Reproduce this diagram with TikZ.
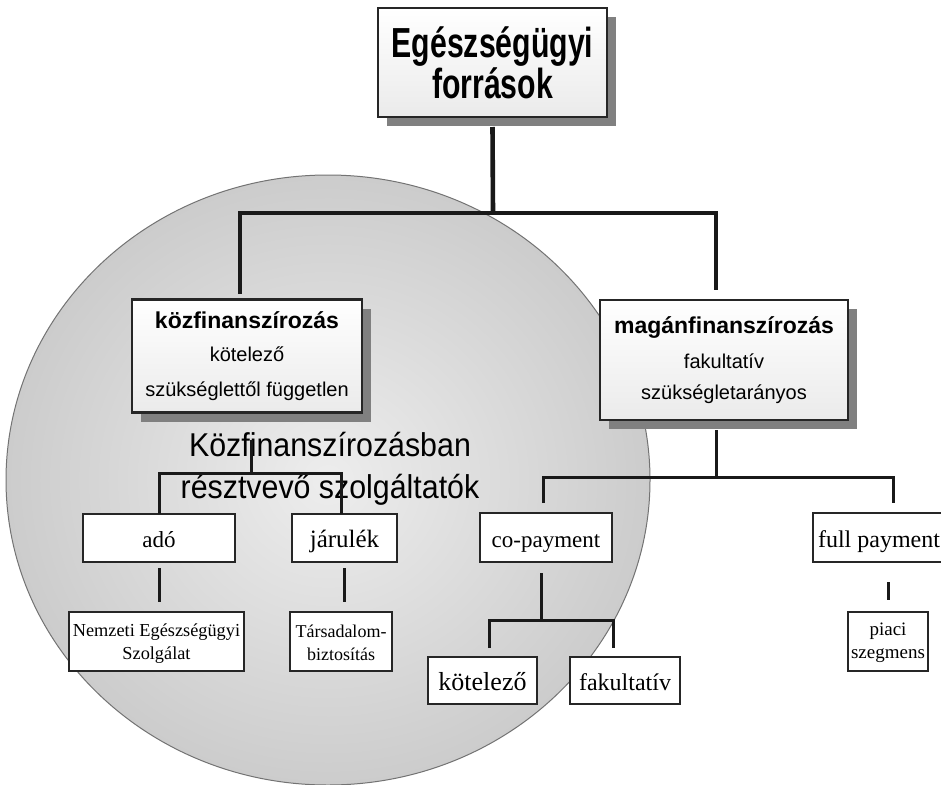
\documentclass[tikz,border=0pt]{standalone}
\usepackage{fontspec}
\setmainfont{Liberation Serif}
\newfontfamily\sansf{Liberation Sans}
\usetikzlibrary{shadows}
\newcommand{\sqz}[2][0.72]{\scalebox{#1}[1]{#2}}
\tikzset{
  every node/.style={inner sep=0pt, outer sep=0pt},
  mainbox/.style={draw=black!85, line width=2.4pt, top color=white, bottom color=gray!16,
    drop shadow={shadow xshift=9pt, shadow yshift=-9pt, fill=black!50, opacity=1}, align=center},
  leafbox/.style={draw=black!85, line width=1.7pt, fill=white, align=center},
  oneline/.style={text height=19pt, text depth=0pt},
  conn/.style={line width=3pt, draw=black!90},
  bigconn/.style={line width=4.6pt, draw=black!90},
}
\begin{document}
\begin{tikzpicture}[x=1pt,y=-1pt]
\useasboundingbox (0,0) rectangle (941,784);
\fill[white] (0,0) rectangle (941,784);
% big grey circle
\shade[inner color=gray!14, outer color=gray!40, draw=black!55, line width=1pt]
  (328,480) ellipse [x radius=322pt, y radius=305pt];

% main boxes
\node[mainbox, minimum width=229pt, minimum height=109pt,
  font=\sansf\bfseries\fontsize{42}{39}\selectfont] (top) at (492.5,62.5)
  {\sqz{Egészségügyi}\\\sqz{források}};
\node[mainbox, minimum width=230pt, minimum height=113pt,
  font=\sansf\fontsize{20}{33}\selectfont] (kozf) at (247,356)
  {\rule{0pt}{8pt}{\bfseries\fontsize{23}{28}\selectfont közfinanszírozás}\\[0pt]kötelező\\[2pt]szükséglettől független};
\node[mainbox, minimum width=248pt, minimum height=120pt,
  font=\sansf\fontsize{20}{31}\selectfont] (mag) at (724,360)
  {\rule{0pt}{8pt}{\bfseries\fontsize{23}{28}\selectfont magánfinanszírozás}\\[4pt]fakultatív\\szükségletarányos};

% big label
\node[align=center, font=\sansf\fontsize{33}{42}\selectfont] (label) at (330,469)
  {\sqz[0.92]{Közfinanszírozásban}\\\sqz[0.92]{résztvevő szolgáltatók}};

% leaf boxes
\node[leafbox, oneline, minimum width=152pt, minimum height=48pt, font=\fontsize{23}{26}\selectfont] (ado) at (159,538) {adó};
\node[leafbox, oneline, minimum width=105pt, minimum height=48pt, font=\fontsize{25}{28}\selectfont] (jar) at (344.5,538) {járulék};
\node[leafbox, oneline, minimum width=132pt, minimum height=49pt, font=\fontsize{23}{26}\selectfont] (co) at (546,537.5) {co-payment};
\node[leafbox, oneline, minimum width=132pt, minimum height=49pt, font=\fontsize{24}{26}\selectfont] (full) at (879,537.5) {full payment};
\node[leafbox, minimum width=175pt, minimum height=59pt, font=\fontsize{18.3}{23}\selectfont] (nem) at (156.5,641.5) {\rule{0pt}{16pt}Nemzeti Egészségügyi\\Szolgálat};
\node[leafbox, minimum width=102pt, minimum height=59pt, font=\fontsize{18}{23}\selectfont] (tar) at (341,641.5) {\rule{0pt}{16pt}Társadalom-\\biztosítás};
\node[leafbox, minimum width=80pt, minimum height=59pt, font=\fontsize{19}{23}\selectfont] (pia) at (888,641.5) {\rule{0pt}{16pt}piaci\\szegmens};
\node[leafbox, oneline, minimum width=109pt, minimum height=47pt, font=\fontsize{26}{28}\selectfont] (kot) at (482.5,680.5) {kötelező};
\node[leafbox, oneline, minimum width=110pt, minimum height=47pt, font=\fontsize{24}{26}\selectfont] (fak) at (625,680.5) {fakultatív};

% level 1 connectors
\coordinate (b1) at (493,213);
\coordinate (kt) at ([xshift=-7pt,yshift=6pt]kozf.north);
\coordinate (mt) at ([xshift=-8pt,yshift=10pt]mag.north);
\draw[bigconn] ([yshift=-10pt]top.south) -- (b1);
\draw[bigconn] (kt) |- (b1) -| (mt);

% public branch
\coordinate (b2) at (251,473);
\coordinate (jt) at ([xshift=-3.5pt]jar.north);
\draw[conn] ([xshift=4pt,yshift=-27pt]kozf.south) -- (b2);
\draw[conn] (ado.north) |- (b2) -| (jt);
\draw[conn, shorten <=6pt, shorten >=10pt] (ado.south) -- (ado.south |- nem.north);
\draw[conn, shorten <=6pt, shorten >=10pt] (jar.south) -- (jar.south |- tar.north);

% private branch
\coordinate (b3) at (716,477);
\coordinate (ct) at ([xshift=-3pt,yshift=10pt]co.north);
\coordinate (ft) at ([xshift=14pt,yshift=10pt]full.north);
\draw[conn] ([xshift=-8pt,yshift=-10pt]mag.south) -- (b3);
\draw[conn] (ct) |- (b3) -| (ft);
\draw[conn, shorten <=20pt, shorten >=12pt] (pia.north |- full.south) -- (pia.north);

% co-payment branch
\coordinate (b4) at (541,620);
\coordinate (kt2) at ([xshift=6.5pt,yshift=9pt]kot.north);
\coordinate (ft2) at ([xshift=-12pt,yshift=9pt]fak.north);
\draw[conn] ([xshift=-5pt,yshift=-11pt]co.south) -- (b4);
\draw[conn] (kt2) |- (b4) -| (ft2);
\end{tikzpicture}
\end{document}
